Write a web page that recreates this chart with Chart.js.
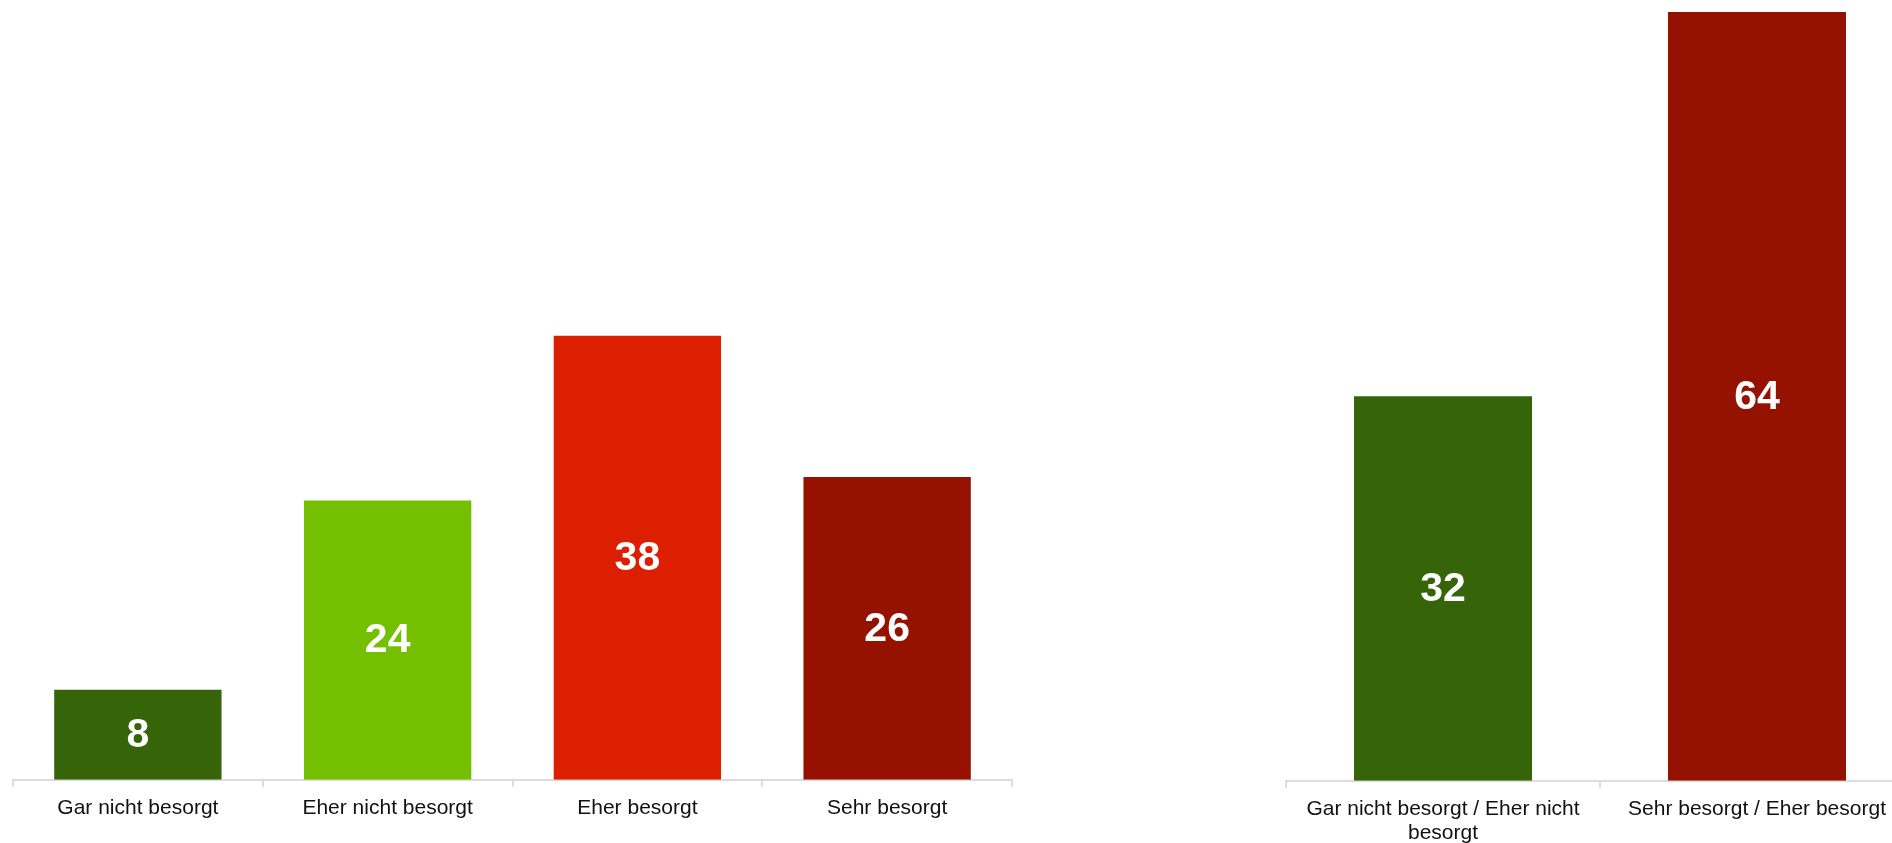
<!DOCTYPE html>
<html>
<head>
<meta charset="utf-8">
<script src="https://cdn.jsdelivr.net/npm/chart.js@4"></script>
<style>
    html, body { margin: 0; padding: 0; background: #fff; overflow: hidden; width: 1892px; height: 843px; }
    #links { position: absolute; left: 0; top: 0; }
    #rechts { position: absolute; left: 1270px; top: 0; }
</style>
</head>
<body>
<canvas id="links" width="1030" height="843"></canvas>
<canvas id="rechts" width="660" height="870"></canvas>
<script>
const kategorienLinks = ['Gar nicht besorgt', 'Eher nicht besorgt', 'Eher besorgt', 'Sehr besorgt'];
const werteLinks = [7.7, 23.9, 38.0, 25.9];
const farbenLinks = ['#366509', '#73BF00', '#DB1F00', '#951200'];

const kategorienRechts = [['Gar nicht besorgt / Eher nicht', 'besorgt'], 'Sehr besorgt / Eher besorgt'];
const werteRechts = [32, 64];
const farbenRechts = ['#366509', '#951200'];

const schrift = "'Liberation Sans', Arial, sans-serif";

// Zahlen mitten in die Balken schreiben
const wertBeschriftung = {
    id: 'wertBeschriftung',
    afterDatasetsDraw(chart) {
        const ctx = chart.ctx;
        const meta = chart.getDatasetMeta(0);
        ctx.save();
        ctx.fillStyle = '#ffffff';
        ctx.font = 'bold 41px ' + schrift;
        ctx.textAlign = 'center';
        ctx.textBaseline = 'middle';
        meta.data.forEach((bar, i) => {
            const wert = chart.data.datasets[0].data[i];
            ctx.fillText(Math.round(wert), bar.x, (bar.y + bar.base) / 2 + 1);
        });
        ctx.restore();
    }
};

function balken(canva, labels, dades, farben, breite, padding) {
    new Chart(canva, {
        type: 'bar',
        data: {
            labels: labels,
            datasets: [{
                data: dades,
                backgroundColor: farben,
                borderWidth: 0,
                categoryPercentage: 1,
                barPercentage: breite
            }]
        },
        options: {
            responsive: false,
            animation: false,
            layout: { padding: padding },
            plugins: {
                legend: { display: false },
                tooltip: { enabled: false }
            },
            scales: {
                x: {
                    grid: {
                        offset: true,
                        drawOnChartArea: false,
                        drawTicks: true,
                        tickLength: 7,
                        color: '#dddddd',
                        lineWidth: 2
                    },
                    border: { display: true, color: '#dddddd', width: 2 },
                    ticks: {
                        color: '#111111',
                        padding: 9,
                        maxRotation: 0,
                        autoSkip: false,
                        font: { family: schrift, size: 21, lineHeight: 1.15 }
                    }
                },
                y: {
                    display: false,
                    min: 0,
                    max: 65
                }
            }
        },
        plugins: [wertBeschriftung]
    });
}

balken(document.getElementById('links'), kategorienLinks, werteLinks, farbenLinks, 0.67,
    { left: 13, right: 18, top: 20, bottom: 14 });
balken(document.getElementById('rechts'), kategorienRechts, werteRechts, farbenRechts, 0.567,
    { left: 16, right: 16, top: 0, bottom: 16 });
</script>
</body>
</html>
